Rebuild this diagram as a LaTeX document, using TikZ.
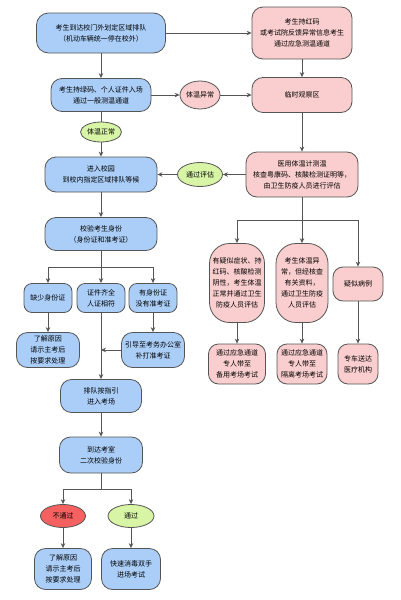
\documentclass[tikz,border=0pt]{standalone}
\usepackage{fontspec}
\setmainfont{Noto Sans CJK SC}
\usepackage{xcolor}
\usetikzlibrary{arrows.meta,shapes.geometric}
\definecolor{stepblue}{RGB}{170,206,248}
\definecolor{alertpink}{RGB}{250,206,206}
\definecolor{okgreen}{RGB}{216,245,166}
\definecolor{failred}{RGB}{245,96,96}
\definecolor{edgegray}{RGB}{85,85,85}

\begin{document}
\begin{tikzpicture}[
    x=1pt, y=-1pt,
    >=Stealth,
    bluebox/.style={rounded corners=11pt, draw=edgegray, fill=stepblue,
        line width=0.8pt, inner sep=0pt, align=center,
        font=\fontsize{7pt}{11pt}\selectfont},
    pinkbox/.style={bluebox, fill=alertpink},
    okoval/.style={ellipse, draw=edgegray, fill=okgreen, line width=0.8pt,
        inner sep=0pt, font=\fontsize{7pt}{11pt}\selectfont},
    pinkoval/.style={okoval, fill=alertpink},
    badoval/.style={okoval, fill=failred},
    arr/.style={-{Stealth[length=5pt,width=4.5pt]}, edgegray, line width=0.9pt},
    link/.style={edgegray, line width=0.9pt},
]
\useasboundingbox (0,0) rectangle (400,600);

% === LEFT: normal entrance ===
\node[bluebox, minimum width=129pt, minimum height=40pt, rounded corners=12pt] (start) at (101,33)
    {考生到达校门外划定区域排队\\（机动车辆统一停在校外）};
\node[bluebox, minimum width=100pt, minimum height=33pt] (green) at (101,95)
    {考生持绿码、个人证件入场\\通过一般测温通道};
\node[okoval, minimum width=41pt, minimum height=20pt] (tempok) at (101,132) {体温正常};
\node[bluebox, minimum width=112pt, minimum height=35pt] (enter) at (101,174.5)
    {进入校园\\到校内指定区域排队等候};
\node[bluebox, minimum width=112pt, minimum height=33pt] (idcheck) at (101,234)
    {校验考生身份\\（身份证和准考证）};

% Identity branches
\coordinate (idsplit) at (101,267);
\node[bluebox, minimum width=48pt, minimum height=29pt, rounded corners=8pt] (noid) at (48,298) {缺少身份证};
\node[bluebox, minimum width=48pt, minimum height=29pt, rounded corners=8pt] (allok) at (101,298) {证件齐全\\人证相符};
\node[bluebox, minimum width=48pt, minimum height=29pt, rounded corners=8pt] (noticket) at (153,298) {有身份证\\没有准考证};
\node[bluebox, minimum width=63pt, minimum height=35pt] (handle1) at (48,350)
    {了解原因\\请示主考后\\按要求处理};
\node[bluebox, minimum width=63pt, minimum height=35pt] (reprint) at (153,350)
    {引导至考务办公室\\补打准考证};

\node[bluebox, minimum width=81pt, minimum height=33pt] (queue) at (101,396)
    {排队按指引\\进入考场};
\node[bluebox, minimum width=83pt, minimum height=36pt] (recheck) at (101,455)
    {到达考室\\二次校验身份};

% Second check branches
\coordinate (chksplit) at (101,489);
\node[badoval, minimum width=45pt, minimum height=23pt] (fail) at (63,516) {不通过};
\node[okoval, minimum width=46pt, minimum height=23pt] (pass) at (131,516) {通过};
\node[bluebox, minimum width=57pt, minimum height=41pt] (handle2) at (63,569)
    {了解原因\\请示主考后\\按要求处理};
\node[bluebox, minimum width=59pt, minimum height=41pt] (enterexam) at (131,569)
    {快速消毒双手\\进场考试};

% === RIGHT: emergency channel ===
\node[pinkbox, minimum width=100pt, minimum height=52pt] (redcode) at (302,33)
    {考生持红码\\或考试院反馈异常信息考生\\通过应急测温通道};
\node[pinkoval, minimum width=40pt, minimum height=28pt] (tempbad) at (200,95) {体温异常};
\node[pinkbox, minimum width=100pt, minimum height=35pt] (observe) at (302,95) {临时观察区};
\node[pinkbox, minimum width=112pt, minimum height=45pt] (assess) at (302,174.5)
    {医用体温计测温\\核查粤康码、核酸检测证明等，\\由卫生防疫人员进行评估};
\node[okoval, minimum width=45pt, minimum height=24pt] (passed) at (200,174.5) {通过评估};

% Assessment branches
\coordinate (assplit) at (302,220);
\node[pinkbox, minimum width=55pt, minimum height=79pt, rounded corners=20pt] (caseA) at (237,283)
    {有疑似症状、持\\红码、核酸检测\\阴性，考生体温\\正常并通过卫生\\防疫人员评估};
\node[pinkbox, minimum width=52pt, minimum height=79pt, rounded corners=20pt] (caseB) at (302,283)
    {考生体温异\\常，但经核查\\有关资料，\\通过卫生防疫\\人员评估};
\node[pinkbox, minimum width=50pt, minimum height=34pt, rounded corners=10pt] (caseC) at (358,284) {疑似病例};
\node[pinkbox, minimum width=57pt, minimum height=40pt, rounded corners=10pt] (roomA) at (237,364)
    {通过应急通道\\专人带至\\备用考场考试};
\node[pinkbox, minimum width=50pt, minimum height=40pt, rounded corners=10pt] (roomB) at (302,364)
    {通过应急通道\\专人带至\\隔离考场考试};
\node[pinkbox, minimum width=40pt, minimum height=40pt, rounded corners=10pt] (roomC) at (358,364)
    {专车送达\\医疗机构};

% === Connectors ===
\draw[arr] (start) -- (green);
\draw[arr] (start.east) -- (redcode.west |- start.east);
\draw[link] (green) -- (tempok);
\draw[arr] (tempok) -- (enter);
\draw[arr] (green) -- (tempbad);
\draw[arr] (tempbad) -- (observe);
\draw[arr] (redcode) -- (observe);
\draw[arr] (observe) -- (assess);
\draw[arr] (assess) -- (passed);
\draw[arr] (passed) -- (enter);
\draw[arr] (enter) -- (idcheck);

\draw[link] (idcheck) -- (idsplit);
\draw[arr] (idsplit) -| (noid);
\draw[arr] (idsplit) -- (allok);
\draw[arr] (idsplit) -| (noticket);
\draw[arr] (noid) -- (handle1);
\draw[arr] (noticket) -- (reprint);
\draw[arr] (allok) -- (queue);
\draw[arr] (reprint) -- (reprint -| allok);
\draw[arr] (queue) -- (recheck);

\draw[link] (recheck) -- (chksplit);
\draw[arr] (chksplit) -| (fail);
\draw[arr] (chksplit) -| (pass);
\draw[arr] (fail) -- (handle2);
\draw[arr] (pass) -- (enterexam);

\draw[link] (assess) -- (assplit);
\draw[arr] (assplit) -| (caseA);
\draw[arr] (assplit) -- (caseB);
\draw[arr] (assplit) -| (caseC);
\draw[arr] (caseA) -- (roomA);
\draw[arr] (caseB) -- (roomB);
\draw[arr] (caseC) -- (roomC);

\end{tikzpicture}
\end{document}
